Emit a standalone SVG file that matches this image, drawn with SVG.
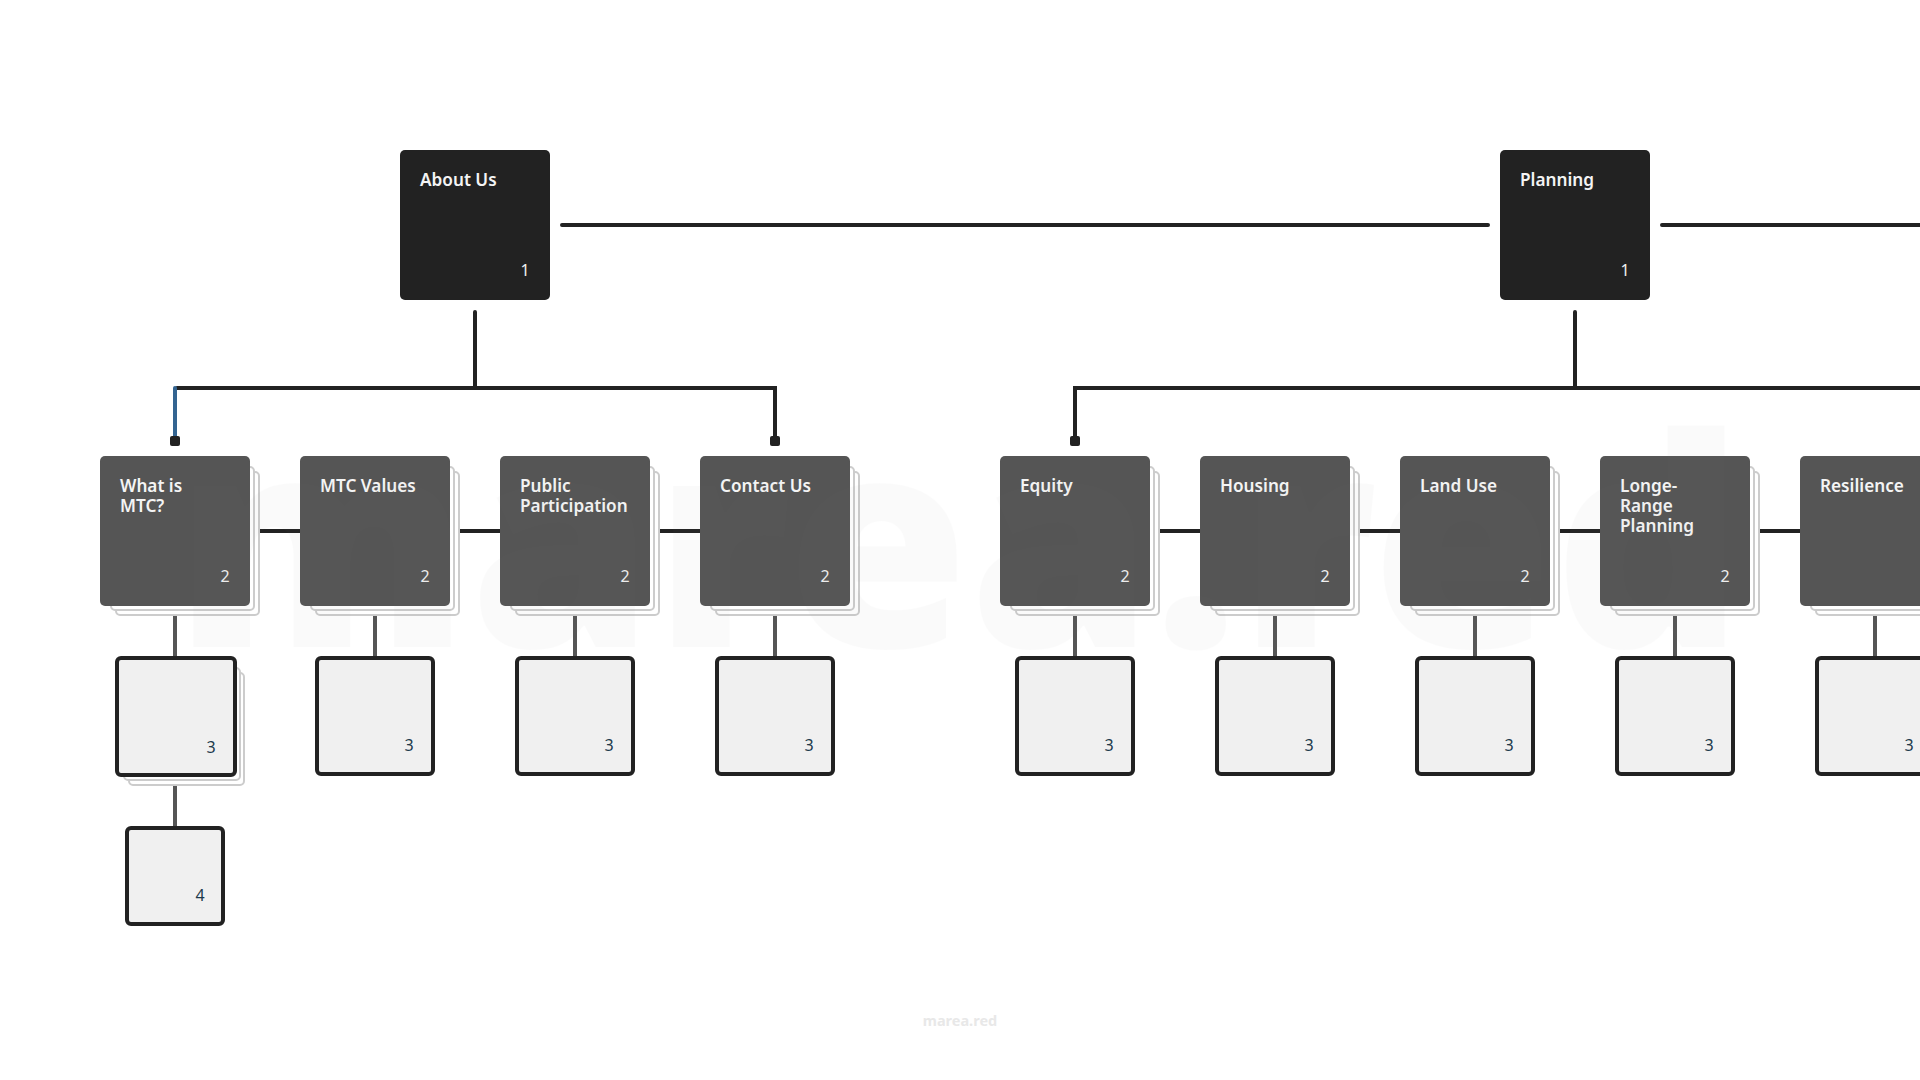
<svg xmlns="http://www.w3.org/2000/svg" width="1920" height="1080" viewBox="0 0 1920 1080">
<style>
text{font-family:"Noto Sans","Open Sans",sans-serif}
.t{font-size:17.2px;font-weight:600;fill:#f4f4f4}
.n{font-size:16px;fill:#f0f0f0;text-anchor:middle}
.m{font-size:16px;fill:#1d3a4c;text-anchor:middle}
.k{fill:none;stroke:#222;stroke-width:4;stroke-linecap:round}
.g{fill:none;stroke:#555;stroke-width:4}
.a{fill:#222}
.b{fill:#555}
.s{fill:#fff;stroke:#ccc;stroke-width:2}
.c{fill:#f0f0f0;stroke:#222;stroke-width:4}
</style>
<rect width="1920" height="1080" fill="#fff"/>
<g id="connectors">
<path class="k" d="M562 225H1488M1662 225H1922M475 312V388M177 388H775V440M1575 312V388M1075 440V388H1922"/>
<path d="M175 388V438" fill="none" stroke="#336491" stroke-width="4" stroke-linecap="round"/>
<rect class="a" x="170" y="436" width="10" height="10" rx="2"/>
<rect class="a" x="770" y="436" width="10" height="10" rx="2"/>
<rect class="a" x="1070" y="436" width="10" height="10" rx="2"/>
<path d="M255 531H300M455 531H500M655 531H700M1155 531H1200M1355 531H1400M1555 531H1600M1755 531H1800" fill="none" stroke="#222" stroke-width="4"/>
<path class="g" d="M175 616V656M375 616V656M575 616V656M775 616V656M1075 616V656M1275 616V656M1475 616V656M1675 616V656M1875 616V656M175 786V826"/>
</g>
<g id="n-about"><rect class="a" x="400" y="150" width="150" height="150" rx="5"/><text class="t" x="420" y="186">About Us</text><text class="n" x="525" y="275.500">1</text></g>
<g id="n-planning"><rect class="a" x="1500" y="150" width="150" height="150" rx="5"/><text class="t" x="1520" y="186">Planning</text><text class="n" x="1625" y="275.500">1</text></g>
<g id="n-what"><rect class="s" x="116" y="472" width="143" height="143" rx="4"/><rect class="s" x="111" y="467" width="143" height="143" rx="4"/><rect class="b" x="100" y="456" width="150" height="150" rx="5"/><text class="t" x="120" y="492">What is</text><text class="t" x="120" y="512">MTC?</text><text class="n" x="225" y="581.500">2</text></g>
<g id="n-values"><rect class="s" x="316" y="472" width="143" height="143" rx="4"/><rect class="s" x="311" y="467" width="143" height="143" rx="4"/><rect class="b" x="300" y="456" width="150" height="150" rx="5"/><text class="t" x="320" y="492">MTC Values</text><text class="n" x="425" y="581.500">2</text></g>
<g id="n-public"><rect class="s" x="516" y="472" width="143" height="143" rx="4"/><rect class="s" x="511" y="467" width="143" height="143" rx="4"/><rect class="b" x="500" y="456" width="150" height="150" rx="5"/><text class="t" x="520" y="492">Public</text><text class="t" x="520" y="512">Participation</text><text class="n" x="625" y="581.500">2</text></g>
<g id="n-contact"><rect class="s" x="716" y="472" width="143" height="143" rx="4"/><rect class="s" x="711" y="467" width="143" height="143" rx="4"/><rect class="b" x="700" y="456" width="150" height="150" rx="5"/><text class="t" x="720" y="492">Contact Us</text><text class="n" x="825" y="581.500">2</text></g>
<g id="n-equity"><rect class="s" x="1016" y="472" width="143" height="143" rx="4"/><rect class="s" x="1011" y="467" width="143" height="143" rx="4"/><rect class="b" x="1000" y="456" width="150" height="150" rx="5"/><text class="t" x="1020" y="492">Equity</text><text class="n" x="1125" y="581.500">2</text></g>
<g id="n-housing"><rect class="s" x="1216" y="472" width="143" height="143" rx="4"/><rect class="s" x="1211" y="467" width="143" height="143" rx="4"/><rect class="b" x="1200" y="456" width="150" height="150" rx="5"/><text class="t" x="1220" y="492">Housing</text><text class="n" x="1325" y="581.500">2</text></g>
<g id="n-landuse"><rect class="s" x="1416" y="472" width="143" height="143" rx="4"/><rect class="s" x="1411" y="467" width="143" height="143" rx="4"/><rect class="b" x="1400" y="456" width="150" height="150" rx="5"/><text class="t" x="1420" y="492">Land Use</text><text class="n" x="1525" y="581.500">2</text></g>
<g id="n-longe"><rect class="s" x="1616" y="472" width="143" height="143" rx="4"/><rect class="s" x="1611" y="467" width="143" height="143" rx="4"/><rect class="b" x="1600" y="456" width="150" height="150" rx="5"/><text class="t" x="1620" y="492">Longe-</text><text class="t" x="1620" y="512">Range</text><text class="t" x="1620" y="532">Planning</text><text class="n" x="1725" y="581.500">2</text></g>
<g id="n-resilience"><rect class="s" x="1816" y="472" width="143" height="143" rx="4"/><rect class="s" x="1811" y="467" width="143" height="143" rx="4"/><rect class="b" x="1800" y="456" width="150" height="150" rx="5"/><text class="t" x="1820" y="492">Resilience</text></g>
<g id="n3-1"><rect class="s" x="129" y="673" width="115" height="112" rx="4"/><rect class="s" x="124" y="668" width="116" height="112" rx="4"/><rect class="c" x="117" y="658" width="118" height="117" rx="4"/><text class="m" x="211" y="753">3</text></g>
<g id="n3-2"><rect class="c" x="317" y="658" width="116" height="116" rx="4"/><text class="m" x="409" y="751">3</text></g>
<g id="n3-3"><rect class="c" x="517" y="658" width="116" height="116" rx="4"/><text class="m" x="609" y="751">3</text></g>
<g id="n3-4"><rect class="c" x="717" y="658" width="116" height="116" rx="4"/><text class="m" x="809" y="751">3</text></g>
<g id="n3-5"><rect class="c" x="1017" y="658" width="116" height="116" rx="4"/><text class="m" x="1109" y="751">3</text></g>
<g id="n3-6"><rect class="c" x="1217" y="658" width="116" height="116" rx="4"/><text class="m" x="1309" y="751">3</text></g>
<g id="n3-7"><rect class="c" x="1417" y="658" width="116" height="116" rx="4"/><text class="m" x="1509" y="751">3</text></g>
<g id="n3-8"><rect class="c" x="1617" y="658" width="116" height="116" rx="4"/><text class="m" x="1709" y="751">3</text></g>
<g id="n3-9"><rect class="c" x="1817" y="658" width="116" height="116" rx="4"/><text class="m" x="1909" y="751">3</text></g>
<g id="n4-1"><rect class="c" x="127" y="828" width="96" height="96" rx="4"/><text class="m" x="200" y="901">4</text></g>
<text x="959" y="647" text-anchor="middle" font-size="291" font-weight="900" fill="#888" opacity="0.03" textLength="1570" lengthAdjust="spacingAndGlyphs">marea.red</text>
<text x="960" y="1026" text-anchor="middle" font-size="14.500" font-weight="700" fill="#e8e8e8">marea.red</text>
</svg>
